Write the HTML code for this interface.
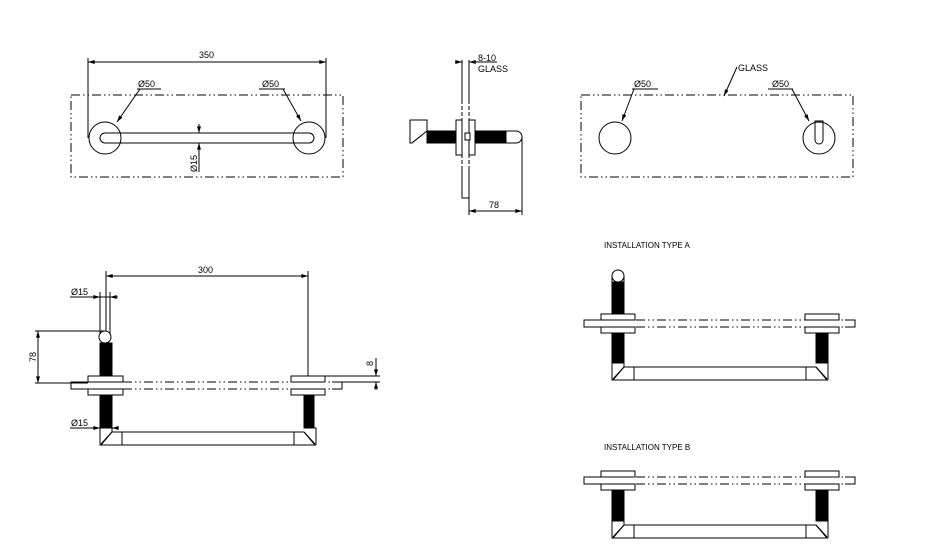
<!DOCTYPE html>
<html><head><meta charset="utf-8"><style>
html,body{margin:0;padding:0;background:#fff;}
svg{display:block;font-family:"Liberation Sans",sans-serif;}
text{font-size:9px;fill:#000;}
</style></head><body>
<svg width="930" height="560" viewBox="0 0 930 560" xmlns="http://www.w3.org/2000/svg">
<defs>
<marker id="ar" viewBox="0 0 10 6" refX="10" refY="3" markerWidth="7" markerHeight="4" orient="auto-start-reverse"><path d="M0,0L10,3L0,6z" fill="#000"/></marker>
<g id="assy" fill="#fff" stroke="#000" stroke-width="1">
  <path d="M0,0H12V4L1,17H0Z M12,4H204 M0,17H216 M22,4V17 M194,4V17 M204,4L215,17 M204,0H216V17"/>
  <path d="M12,4L1,16" />
  <path d="M204,4L215,16"/>
</g>
</defs>
<g fill="none" stroke="#000" stroke-width="1">
<!-- VIEW 1 -->
<rect x="71" y="95" width="272" height="82" stroke-dasharray="9,3,1.5,3,1.5,3"/>
<circle cx="105" cy="138" r="16"/><circle cx="309" cy="138" r="16"/>
<rect x="100" y="133" width="214" height="10" rx="5"/>
<path d="M88,58V138 M326,58V138"/>
<line x1="88" y1="62" x2="326" y2="62" marker-start="url(#ar)" marker-end="url(#ar)"/>
<path d="M137,89H161 M259,89H285"/>
<line x1="140" y1="89" x2="117" y2="122" marker-end="url(#ar)"/>
<line x1="283" y1="89" x2="301" y2="121" marker-end="url(#ar)"/>
<line x1="199" y1="124" x2="199" y2="133" marker-end="url(#ar)"/>
<line x1="199" y1="172" x2="199" y2="143" marker-end="url(#ar)"/>

<!-- VIEW 2 -->
<path d="M462,60V100 M469,60V100 M462,166V198H469 M469,166V215"/>
<path d="M462,100V166 M469,100V166" stroke-dasharray="4,2"/>
<line x1="455" y1="62" x2="462" y2="62" marker-end="url(#ar)"/>
<line x1="476" y1="62" x2="469" y2="62" marker-end="url(#ar)"/>
<path d="M476,62H497"/>
<path d="M410,120H427V131L412,143H410Z M427,131L413,142"/>
<rect x="427" y="131" width="28" height="12" fill="#000"/>
<rect x="456" y="120" width="6" height="35" fill="#fff"/>
<rect x="469" y="120" width="6" height="35" fill="#fff"/>
<rect x="465" y="133" width="5" height="7" fill="#fff"/>
<rect x="475" y="131" width="31" height="12" fill="#000"/>
<path d="M506,131H516A6,6 0 0 1 516,143H506Z" fill="#fff"/>
<path d="M522,137V215"/>
<line x1="469" y1="211" x2="522" y2="211" marker-start="url(#ar)" marker-end="url(#ar)"/>

<!-- VIEW 3 -->
<rect x="581" y="95" width="272" height="82" stroke-dasharray="9,3,1.5,3,1.5,3"/>
<circle cx="615" cy="138" r="16"/><circle cx="819" cy="138" r="16"/>
<path d="M815,121V140A4,4 0 0 0 823,140V121Z"/>
<path d="M632,89H658 M768,89H793"/>
<line x1="634" y1="89" x2="622" y2="121" marker-end="url(#ar)"/>
<line x1="792" y1="89" x2="809" y2="121" marker-end="url(#ar)"/>
<line x1="737" y1="67" x2="724" y2="96" marker-end="url(#ar)"/>

<!-- VIEW 4 -->
<path d="M106,271V335 M308,271V376"/>
<line x1="106" y1="276" x2="308" y2="276" marker-start="url(#ar)" marker-end="url(#ar)"/>
<path d="M100,292V337 M110,292V337 M70,297H118"/>
<line x1="94" y1="297" x2="100" y2="297" marker-end="url(#ar)"/>
<line x1="116" y1="297" x2="110" y2="297" marker-end="url(#ar)"/>
<path d="M35,331H104 M35,383H88"/>
<line x1="38" y1="331" x2="38" y2="383" marker-start="url(#ar)" marker-end="url(#ar)"/>
<path d="M81,382H71V389H81 M332,382H342V389H332"/>
<path d="M81,382H332 M81,389H332" stroke-dasharray="9,3,1.5,3,1.5,3"/>
<circle cx="105" cy="337" r="6" fill="#fff"/>
<rect x="100" y="343" width="12" height="33" fill="#000"/>
<rect x="100" y="395" width="12" height="33" fill="#000"/>
<rect x="304" y="395" width="10" height="33" fill="#000"/>
<rect x="88" y="376" width="35" height="6" fill="#fff"/>
<rect x="88" y="389" width="35" height="6" fill="#fff"/>
<rect x="291" y="376" width="34" height="6" fill="#fff"/>
<rect x="291" y="389" width="34" height="6" fill="#fff"/>
<path d="M325,376H380 M342,382H380"/>
<line x1="376" y1="358" x2="376" y2="376" marker-end="url(#ar)"/>
<line x1="376" y1="390" x2="376" y2="382" marker-end="url(#ar)"/>
<path d="M70,428H100"/>
<line x1="94" y1="428" x2="100" y2="428" marker-end="url(#ar)"/>
<line x1="118" y1="428" x2="112" y2="428" marker-end="url(#ar)"/>
</g>
<use href="#assy" transform="translate(100,428)" />

<!-- TYPE A -->
<g fill="none" stroke="#000" stroke-width="1">
<path d="M594,320H584V327H594 M845,320H855V327H845"/>
<path d="M594,320H845 M594,327H845" stroke-dasharray="9,3,1.5,3,1.5,3"/>
<circle cx="618" cy="276" r="6" fill="#fff"/>
<path d="M612,276V282 M624,276V282"/>
<rect x="612" y="282" width="12" height="32" fill="#000"/>
<rect x="612" y="333" width="12" height="30" fill="#000"/>
<rect x="816" y="333" width="12" height="30" fill="#000"/>
<rect x="601" y="314" width="34" height="6" fill="#fff"/>
<rect x="601" y="327" width="34" height="6" fill="#fff"/>
<rect x="805" y="314" width="34" height="6" fill="#fff"/>
<rect x="805" y="327" width="34" height="6" fill="#fff"/>
</g>
<use href="#assy" transform="translate(612,363)" />

<!-- TYPE B -->
<g fill="none" stroke="#000" stroke-width="1">
<path d="M594,477H584V484H594 M845,477H855V484H845"/>
<path d="M594,477H845 M594,484H845" stroke-dasharray="9,3,1.5,3,1.5,3"/>
<rect x="612" y="490" width="12" height="31" fill="#000"/>
<rect x="816" y="490" width="12" height="31" fill="#000"/>
<rect x="601" y="471" width="34" height="6" fill="#fff"/>
<rect x="601" y="484" width="34" height="6" fill="#fff"/>
<rect x="805" y="471" width="34" height="6" fill="#fff"/>
<rect x="805" y="484" width="34" height="6" fill="#fff"/>
</g>
<use href="#assy" transform="translate(612,521)" />

<!-- TEXT -->
<text x="199" y="58">350</text>
<text x="138" y="87">Ø50</text>
<text x="262" y="87">Ø50</text>
<text transform="translate(197,172) rotate(-90)">Ø15</text>
<text x="478" y="61">8-10</text>
<text x="478" y="72">GLASS</text>
<text x="489" y="208">78</text>
<text x="738" y="71">GLASS</text>
<text x="634" y="87">Ø50</text>
<text x="772" y="87">Ø50</text>
<text x="198" y="273">300</text>
<text x="71" y="295">Ø15</text>
<text transform="translate(36,362) rotate(-90)">78</text>
<text transform="translate(373,366) rotate(-90)">8</text>
<text x="71" y="426">Ø15</text>
<text x="604" y="248" style="font-size:8px">INSTALLATION TYPE A</text>
<text x="604" y="450" style="font-size:8px">INSTALLATION TYPE B</text>
</svg>
</body></html>
